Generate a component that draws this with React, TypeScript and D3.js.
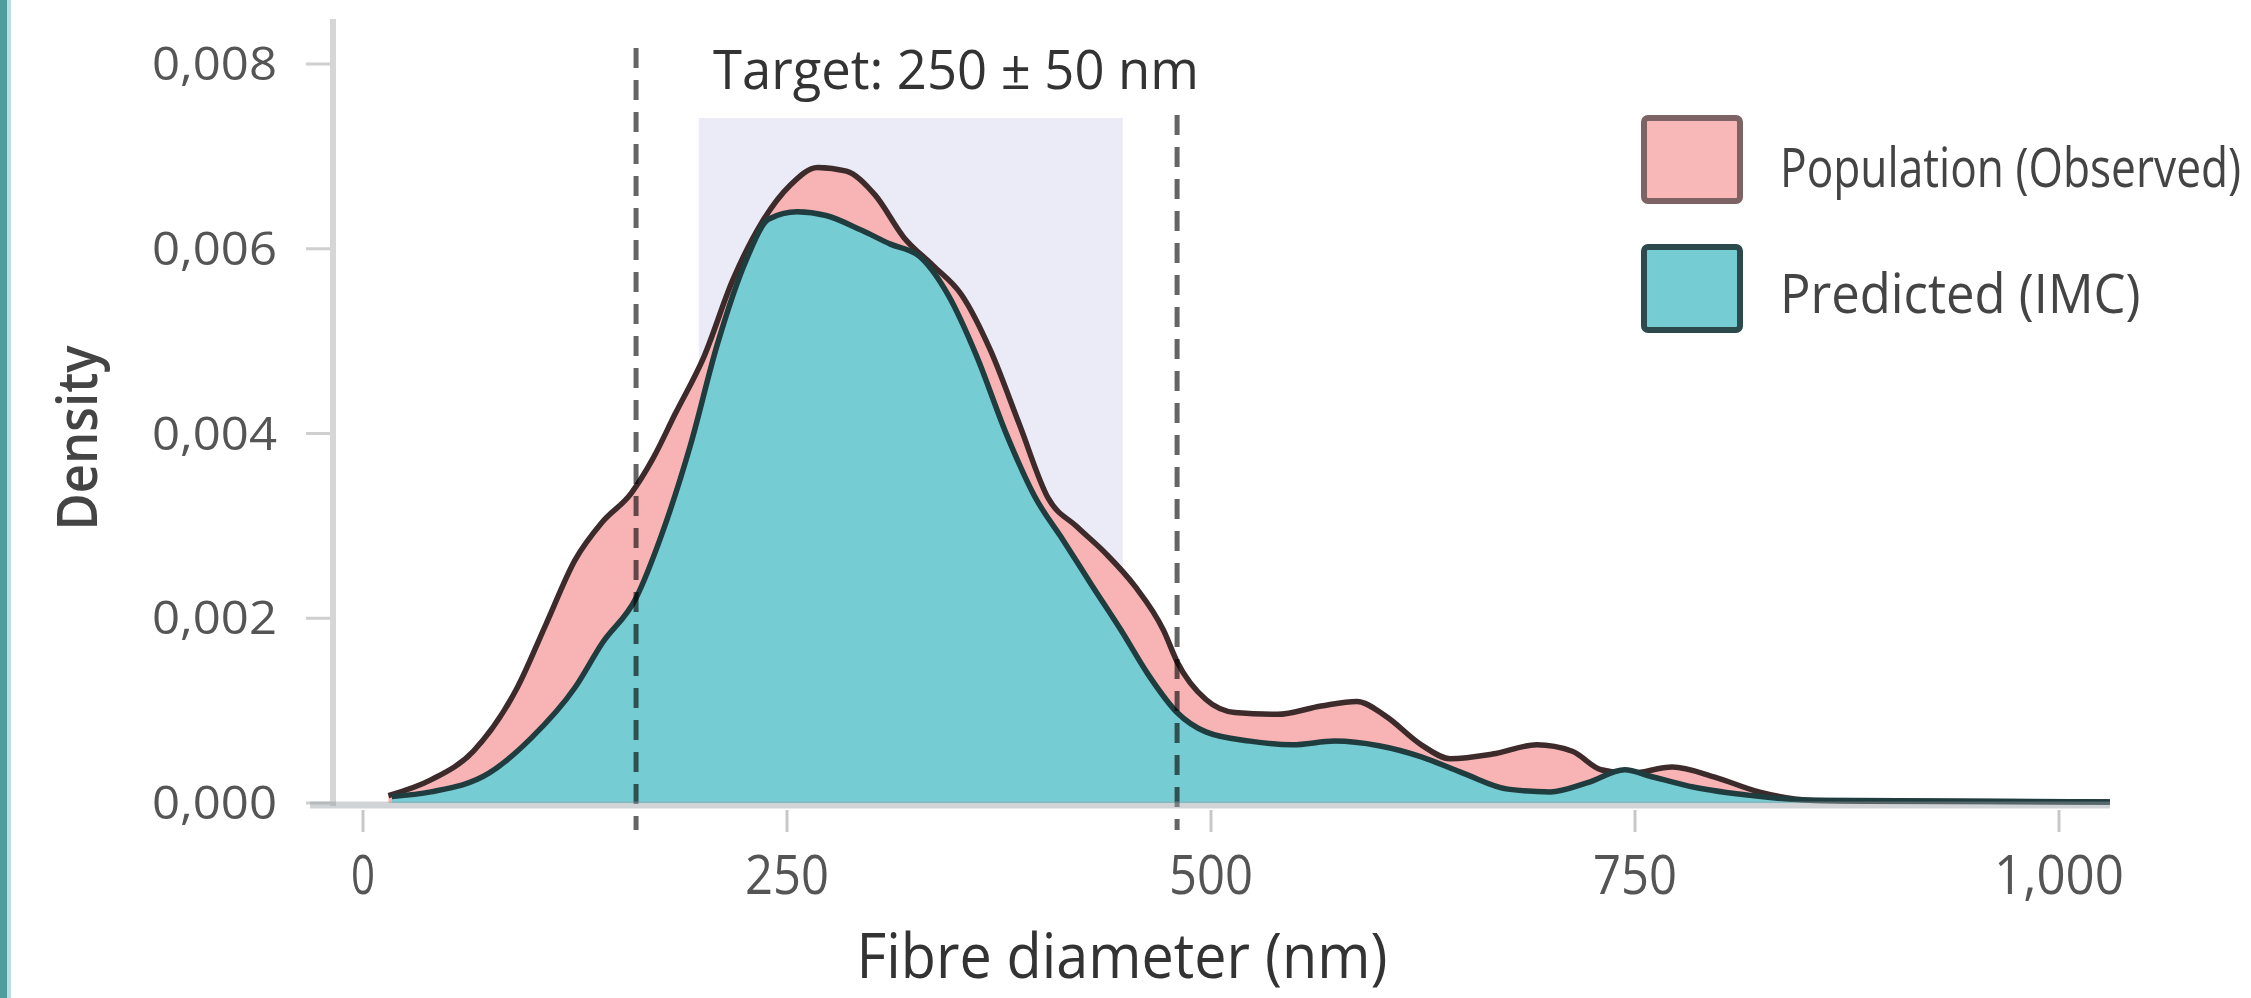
import React from "react";
import * as d3 from "d3";

// ---- Data ----
const popX = [15, 40, 65, 91, 108, 125, 141, 158, 171, 184, 201, 218, 235, 252, 268, 285, 302, 319, 336, 353, 370, 387, 404, 421, 438, 455, 472, 480, 497, 514, 539, 565, 586, 603, 624, 641, 666, 692, 713, 730, 747, 772, 797, 823, 853, 886, 1030];
const popY = [0.00008, 0.00025, 0.00056, 0.00125, 0.00194, 0.00263, 0.00304, 0.00335, 0.00373, 0.00421, 0.00483, 0.00566, 0.00628, 0.00669, 0.00688, 0.00684, 0.00658, 0.00612, 0.00582, 0.0055, 0.0049, 0.0041, 0.0033, 0.00299, 0.0027, 0.00235, 0.00187, 0.00153, 0.00112, 0.00098, 0.00096, 0.00105, 0.0011, 0.00094, 0.00063, 0.00048, 0.00053, 0.00063, 0.00056, 0.00036, 0.00032, 0.00039, 0.00028, 0.00012, 0.00003, 0.00002, 0.00001];

const predX = [17, 40, 74, 99, 125, 141, 161, 176, 193, 209, 226, 239, 256, 273, 294, 311, 328, 345, 362, 379, 396, 413, 430, 447, 463, 480, 497, 523, 548, 573, 599, 624, 649, 675, 700, 722, 744, 759, 785, 819, 853, 1030];
const predY = [0.00007, 0.00012, 0.00032, 0.0007, 0.00125, 0.00173, 0.00222, 0.0029, 0.00387, 0.00497, 0.00588, 0.00632, 0.0064, 0.00636, 0.0062, 0.00605, 0.00592, 0.0055, 0.00483, 0.00401, 0.00332, 0.00284, 0.00235, 0.00187, 0.00139, 0.00098, 0.00077, 0.00067, 0.00063, 0.00067, 0.00062, 0.0005, 0.00032, 0.00015, 0.00012, 0.00022, 0.00036, 0.00029, 0.00017, 0.00008, 0.00003, 0.00001];

const xTicks = [0, 250, 500, 750, 1000];
const xTickLabels = ["0", "250", "500", "750", "1,000"];
const yTicks = [0, 0.002, 0.004, 0.006, 0.008];
const yTickLabels = ["0,000", "0,002", "0,004", "0,006", "0,008"];
const targetBand = [198, 448];
const dashedLines = [161, 480];
const seriesNames = ["Population (Observed)", "Predicted (IMC)"];

export default function App() {
  const W = 2251, H = 998;
  const x = d3.scaleLinear().domain([0, 1000]).range([363, 2059]);
  const y = d3.scaleLinear().domain([0, 0.008]).range([803, 64]);

  const pop = popX.map((v, i) => [v, popY[i]] as [number, number]);
  const pred = predX.map((v, i) => [v, predY[i]] as [number, number]);

  const area = d3.area<[number, number]>()
    .x((d) => x(d[0]))
    .y0(y(0))
    .y1((d) => y(d[1]))
    .curve(d3.curveMonotoneX);
  const line = d3.line<[number, number]>()
    .x((d) => x(d[0]))
    .y((d) => y(d[1]))
    .curve(d3.curveMonotoneX);

  const font = "'Open Sans', 'DejaVu Sans', sans-serif";
  const xLabelLen = [24, 84, 84, 84, 130];

  return (
    <svg width={W} height={H} style={{ position: "absolute", left: 0, top: 0, background: "#fff" }} fontFamily={font}>
      <rect x={0} y={0} width={W} height={H} fill="#ffffff" />
      {/* left card border */}
      <rect x={0} y={0} width={7} height={H} fill="#4e9c9e" />
      <rect x={7} y={0} width={4} height={H} fill="#b9dfe0" />

      {/* target band */}
      <rect x={x(targetBand[0])} y={118} width={x(targetBand[1]) - x(targetBand[0])} height={y(0) - 118} fill="#ebebf7" />

      {/* y axis */}
      <line x1={333} x2={333} y1={19} y2={806} stroke="#d6d6d6" strokeWidth={6} />
      {yTicks.map((t, i) => (
        <g key={"yt" + i}>
          <line x1={306} x2={330} y1={y(t)} y2={y(t)} stroke="#cfcfcf" strokeWidth={3} />
          <text x={277} y={y(t) + 16} fontSize={46} fill="#555" textAnchor="end" textLength={125} lengthAdjust="spacingAndGlyphs">{yTickLabels[i]}</text>
        </g>
      ))}

      {/* areas */}
      <path d={area(pop) || ""} fill="#f8b4b4" />
      <path d={line(pop) || ""} fill="none" stroke="#3d2b2b" strokeWidth={5.5} strokeLinejoin="round" />
      <path d={area(pred) || ""} fill="#76ccd3" />
      <path d={line(pred) || ""} fill="none" stroke="#1f3c3f" strokeWidth={5.5} strokeLinejoin="round" />

      {/* dashed lines */}
      <line x1={x(dashedLines[0])} x2={x(dashedLines[0])} y1={48} y2={830} stroke="#656565" strokeWidth={5} strokeDasharray="20 12" style={{ mixBlendMode: "multiply" }} />
      <line x1={x(dashedLines[1])} x2={x(dashedLines[1])} y1={115} y2={830} stroke="#656565" strokeWidth={5} strokeDasharray="20 12" style={{ mixBlendMode: "multiply" }} />

      {/* x axis */}
      <line x1={310} x2={2110} y1={805} y2={805} stroke="rgba(150,160,165,0.45)" strokeWidth={7} />
      {xTicks.map((t, i) => (
        <g key={"xt" + i}>
          <line x1={x(t)} x2={x(t)} y1={810} y2={832} stroke="#c8c8c8" strokeWidth={3} />
          <text x={x(t)} y={894} fontSize={54} fill="#555" textAnchor="middle" textLength={xLabelLen[i]} lengthAdjust="spacingAndGlyphs">{xTickLabels[i]}</text>
        </g>
      ))}

      {/* target label */}
      <text x={956} y={89} fontSize={54} fill="#333" textAnchor="middle" textLength={486} lengthAdjust="spacingAndGlyphs">Target: 250 ± 50 nm</text>

      {/* axis titles */}
      <text x={1122} y={978} fontSize={62} fill="#333" textAnchor="middle" textLength={531} lengthAdjust="spacingAndGlyphs">Fibre diameter (nm)</text>
      <text transform="translate(97,438) rotate(-90)" fontSize={56} fontWeight={600} fill="#444" textAnchor="middle" textLength={185} lengthAdjust="spacingAndGlyphs">Density</text>

      {/* legend */}
      <rect x={1644} y={118} width={96} height={83} rx={4} fill="#f9b8b8" stroke="#7d6363" strokeWidth={6} />
      <rect x={1644} y={247} width={96} height={83} rx={4} fill="#76ccd3" stroke="#2c4a4c" strokeWidth={6} />
      <g transform="translate(1780,187) scale(0.82,1)">
        <text x={0} y={0} fontSize={54} fill="#444">{seriesNames[0]}</text>
      </g>
      <g transform="translate(1780,313) scale(0.94,1)">
        <text x={0} y={0} fontSize={54} fill="#444">{seriesNames[1]}</text>
      </g>
    </svg>
  );
}
